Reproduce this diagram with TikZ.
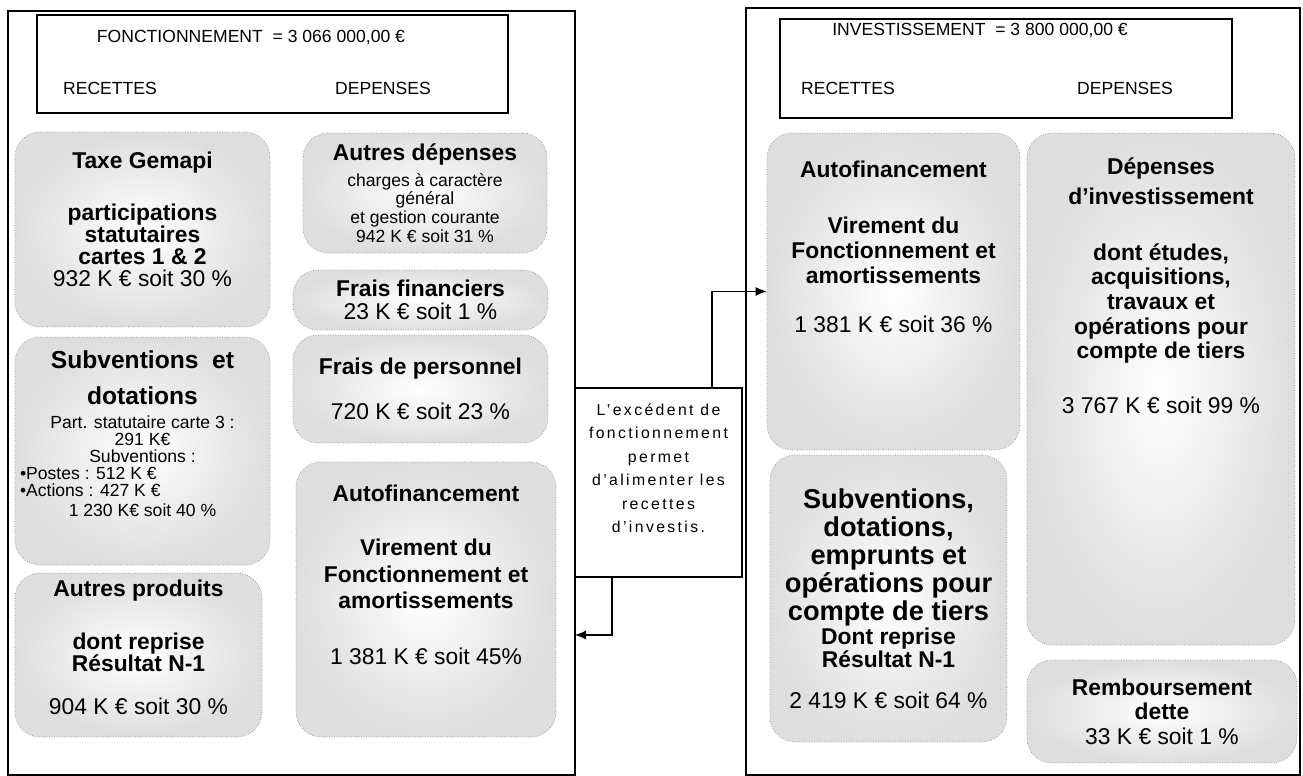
\documentclass[tikz,border=0pt]{standalone}
\usepackage{fontspec}
\setmainfont{Liberation Sans}
\usetikzlibrary{positioning}
\usetikzlibrary{arrows.meta}
% lignes serrees dans les blocs
\lineskiplimit=-100pt

\begin{document}
\begin{tikzpicture}[x=0.02cm, y=-0.02cm,
    cadre/.style={draw, line width=0.8pt, inner sep=0pt},
    bloc/.style={draw=black!45, densely dotted, inner color=white, outer color=black!13, rounded corners=0.5cm, align=center, inner sep=2pt, font=\fontsize{13}{14}\selectfont},
    entete/.style={font=\fontsize{10}{12}\selectfont, inner sep=0pt},
    fleche/.style={-{Latex[length=2.2mm,width=1.8mm]}, line width=0.6pt}]
  \useasboundingbox (0,0) rectangle (1303,776);

  % fonctionnement
  \node[cadre, minimum width=11.34cm, minimum height=15.28cm] (cadreF) at (291.5,393) {};
  \node[cadre, minimum width=9.42cm, minimum height=1.96cm] (hautF) at (272.5,64) {};
  \node[entete] (titreF) at (251,37) {FONCTIONNEMENT\ \ = 3 066 000,00 €};
  \node[entete] (recF) at (110,88) {RECETTES};
  \node[entete] (depF) at (383,88) {DEPENSES};

  \node[bloc, minimum width=5.1cm, minimum height=3.9cm, font=\fontsize{13}{12.5}\selectfont] (gemapi) at (142.5,229.5)
    {\textbf{Taxe Gemapi}\\[17pt] \textbf{participations}\\ \textbf{statutaires}\\ \textbf{cartes 1 \& 2}\\ 932 K € soit 30 \%\\[-1pt] \mbox{}};
  \node[bloc, minimum width=5.1cm, minimum height=4.56cm, font=\fontsize{10}{9.6}\selectfont] (subvF) at (142.5,451)
    {{\fontsize{14}{14}\selectfont\bfseries Subventions\ \ et}\\[11pt]
     {\fontsize{14}{14}\selectfont\bfseries dotations}\\[4pt]
     Part. statutaire carte 3 :\\ 291 K€\\ Subventions :\\
     \makebox[4.9cm][l]{•Postes : 512 K €}\\
     \makebox[4.9cm][l]{•Actions : 427 K €}\\[2pt]
     1 230 K€ soit 40 \%\\[10pt] \mbox{}};
  \node[bloc, minimum width=4.94cm, minimum height=3.28cm, font=\fontsize{13}{12.5}\selectfont] (autresP) at (138.5,655)
    {\textbf{Autres produits}\\[18pt] \textbf{dont reprise}\\ \textbf{Résultat N-1}\\[12pt] 904 K € soit 30 \%\\[-3.5pt] \mbox{}};

  \node[bloc, minimum width=4.88cm, minimum height=2.4cm, font=\fontsize{10}{10.6}\selectfont] (autresD) at (425,193)
    {{\fontsize{13}{13}\selectfont\bfseries Autres dépenses}\\[4pt] charges à caractère\\ général\\ et gestion courante\\ 942 K € soit 31 \%};
  \node[bloc, minimum width=5.1cm, minimum height=1.2cm, font=\fontsize{13}{13}\selectfont] (fraisF) at (420.5,300)
    {\textbf{Frais financiers}\\ 23 K € soit 1 \%};
  \node[bloc, minimum width=5.1cm, minimum height=2.16cm, font=\fontsize{13}{13}\selectfont] (fraisP) at (420.5,389)
    {\textbf{Frais de personnel}\\[13pt] 720 K € soit 23 \%};
  \node[bloc, minimum width=5.2cm, minimum height=5.5cm, font=\fontsize{13}{15}\selectfont] (autofF) at (426,599.5)
    {\textbf{Autofinancement}\\[16pt] \textbf{Virement du}\\ \textbf{Fonctionnement et}\\ \textbf{amortissements}\\[17pt] 1 381 K € soit 45\%\\[13pt] \mbox{}};

  % excedent
  \node[cadre, fill=white, minimum width=3.34cm, minimum height=3.78cm, align=center,
        font=\fontsize{9}{13.4}\selectfont\addfontfeatures{LetterSpace=15}] (excedent) at (658.5,482.5)
    {L'excédent de\\ fonctionnement\\ permet\\ d'alimenter les\\ recettes\\ d'investis.\\[3pt] \mbox{}};

  % investissement
  \node[cadre, minimum width=11.08cm, minimum height=15.34cm] (cadreI) at (1023,391.5) {};
  \node[cadre, minimum width=9.04cm, minimum height=1.98cm] (hautI) at (1006,68.5) {};
  \node[entete] (titreI) at (980,30) {INVESTISSEMENT\ \ = 3 800 000,00 €};
  \node[entete] (recI) at (848,88) {RECETTES};
  \node[entete] (depI) at (1125,88) {DEPENSES};

  \node[bloc, minimum width=5.06cm, minimum height=6.34cm] (autofI) at (893.5,291.5)
    {\textbf{Autofinancement}\\[18pt] \textbf{Virement du}\\ \textbf{Fonctionnement et}\\ \textbf{amortissements}\\[14pt] 1 381 K € soit 36 \%\\[37pt] \mbox{}};
  \node[bloc, minimum width=4.74cm, minimum height=5.74cm, font=\fontsize{15.5}{15.9}\selectfont] (subvI) at (888.5,598.5)
    {\textbf{Subventions,}\\ \textbf{dotations,}\\ \textbf{emprunts et}\\ \textbf{opérations pour}\\ \textbf{compte de tiers}\\[-2.3pt]
     {\fontsize{13}{13}\selectfont\bfseries Dont reprise}\\[-2.3pt]
     {\fontsize{13}{13}\selectfont\bfseries Résultat N-1}\\[7pt]
     {\fontsize{13}{13}\selectfont 2 419 K € soit 64 \%}};
  \node[bloc, minimum width=5.36cm, minimum height=10.24cm] (invest) at (1161,389)
    {\textbf{Dépenses}\\[3pt] \textbf{d’investissement}\\[18pt] \textbf{dont études,}\\ \textbf{acquisitions,}\\ \textbf{travaux et}\\
     \textbf{opérations pour}\\ \textbf{compte de tiers}\\[17pt] 3 767 K € soit 99 \%\\[104pt] \mbox{}};
  \node[bloc, minimum width=5.4cm, minimum height=2.06cm] (rembt) at (1162,711.5)
    {\textbf{Remboursement}\\ \textbf{dette}\\ 33 K € soit 1 \%};

  % fleches
  \coordinate (retour) at (575,635);
  \draw[fleche] ([xshift=1.07cm]excedent.north) |- (autofI.west);
  \draw[fleche] ([xshift=-0.93cm]excedent.south) |- (retour);
\end{tikzpicture}
\end{document}
